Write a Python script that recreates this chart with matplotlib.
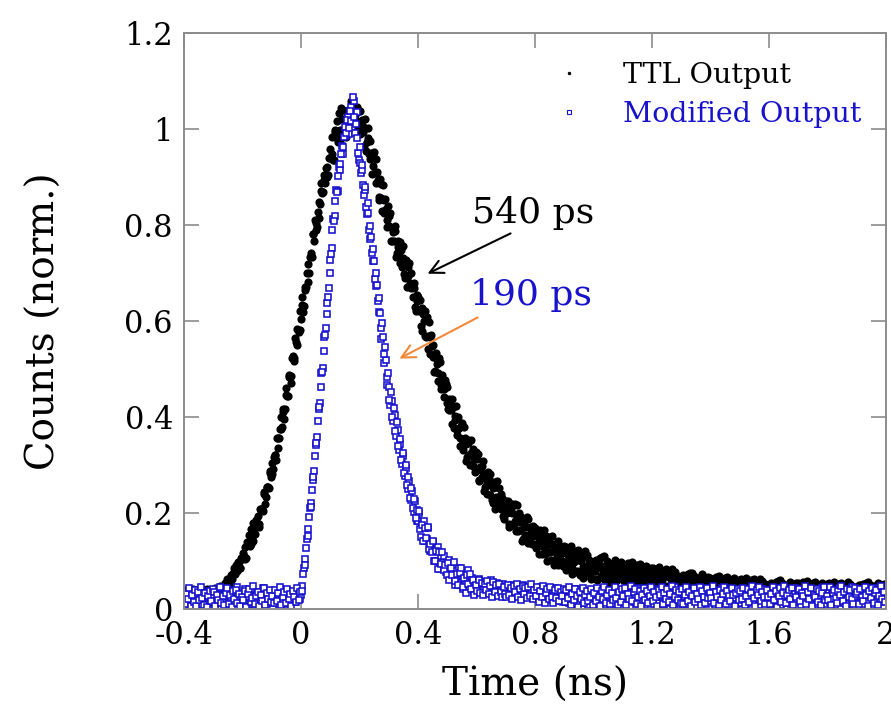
import numpy as np
import matplotlib
matplotlib.use("Agg")
import matplotlib.pyplot as plt
from matplotlib.lines import Line2D

# time bins (ns): 5 ps step from -0.4 to 2.0, plus the half-step bins in between
t_start = -0.4
t_step = 0.005

# TTL output, normalised counts, bins at t_start + i*t_step
ttl_counts = [
    0.039, 0.024, 0.032, 0.019, 0.036, 0.028, 0.042, 0.022, 0.031, 0.025, 0.040, 0.021, 0.034, 0.017, 0.037, 0.027, 0.041, 0.024, 0.031, 0.022,
    0.025, 0.043, 0.021, 0.034, 0.041, 0.021, 0.042, 0.039, 0.054, 0.039, 0.055, 0.044, 0.071, 0.063, 0.086, 0.072, 0.085, 0.097, 0.085, 0.106,
    0.116, 0.110, 0.105, 0.140, 0.137, 0.132, 0.167, 0.142, 0.170, 0.186, 0.173, 0.170, 0.208, 0.209, 0.205, 0.244, 0.233, 0.255, 0.253, 0.287,
    0.305, 0.291, 0.321, 0.311, 0.356, 0.357, 0.400, 0.380, 0.411, 0.417, 0.460, 0.443, 0.483, 0.471, 0.523, 0.522, 0.564, 0.551, 0.581, 0.581,
    0.604, 0.651, 0.631, 0.671, 0.699, 0.682, 0.733, 0.741, 0.781, 0.766, 0.804, 0.795, 0.848, 0.843, 0.888, 0.869, 0.894, 0.919, 0.901, 0.939,
    0.959, 0.948, 0.935, 0.997, 0.988, 0.972, 1.033, 0.977, 1.020, 1.039, 1.003, 0.984, 1.040, 1.027, 1.003, 1.055, 1.013, 1.030, 1.002, 1.038,
    1.038, 0.991, 1.009, 0.964, 1.002, 0.972, 1.003, 0.937, 0.950, 0.923, 0.952, 0.887, 0.911, 0.853, 0.896, 0.856, 0.883, 0.825, 0.833, 0.796,
    0.798, 0.825, 0.767, 0.785, 0.788, 0.733, 0.767, 0.744, 0.764, 0.713, 0.731, 0.689, 0.728, 0.693, 0.721, 0.668, 0.673, 0.679, 0.629, 0.654,
    0.650, 0.620, 0.589, 0.628, 0.601, 0.569, 0.609, 0.542, 0.567, 0.571, 0.524, 0.493, 0.534, 0.510, 0.476, 0.515, 0.467, 0.474, 0.441, 0.469,
    0.463, 0.415, 0.429, 0.385, 0.420, 0.393, 0.423, 0.362, 0.378, 0.356, 0.387, 0.331, 0.357, 0.309, 0.353, 0.321, 0.352, 0.303, 0.315, 0.285,
    0.290, 0.322, 0.268, 0.290, 0.297, 0.245, 0.282, 0.262, 0.285, 0.237, 0.259, 0.221, 0.264, 0.233, 0.266, 0.218, 0.228, 0.239, 0.194, 0.224,
    0.224, 0.200, 0.177, 0.219, 0.199, 0.174, 0.218, 0.162, 0.191, 0.201, 0.164, 0.142, 0.186, 0.170, 0.144, 0.187, 0.149, 0.162, 0.136, 0.167,
    0.169, 0.131, 0.149, 0.115, 0.152, 0.132, 0.165, 0.115, 0.133, 0.118, 0.151, 0.103, 0.133, 0.091, 0.136, 0.110, 0.141, 0.100, 0.115, 0.090,
    0.097, 0.130, 0.084, 0.108, 0.118, 0.073, 0.111, 0.097, 0.121, 0.080, 0.103, 0.071, 0.113, 0.087, 0.121, 0.079, 0.091, 0.103, 0.065, 0.095,
    0.097, 0.080, 0.063, 0.101, 0.087, 0.069, 0.108, 0.062, 0.090, 0.100, 0.071, 0.054, 0.093, 0.081, 0.063, 0.100, 0.070, 0.083, 0.064, 0.091,
    0.094, 0.063, 0.080, 0.052, 0.085, 0.069, 0.098, 0.057, 0.074, 0.062, 0.091, 0.052, 0.078, 0.044, 0.083, 0.062, 0.090, 0.056, 0.070, 0.050,
    0.058, 0.086, 0.048, 0.068, 0.077, 0.040, 0.071, 0.061, 0.080, 0.047, 0.068, 0.041, 0.076, 0.054, 0.083, 0.049, 0.059, 0.069, 0.038, 0.064,
    0.066, 0.052, 0.038, 0.069, 0.058, 0.043, 0.075, 0.038, 0.060, 0.069, 0.045, 0.031, 0.064, 0.055, 0.039, 0.069, 0.045, 0.056, 0.040, 0.062,
    0.064, 0.040, 0.054, 0.032, 0.058, 0.045, 0.069, 0.036, 0.050, 0.041, 0.064, 0.034, 0.054, 0.027, 0.058, 0.042, 0.064, 0.038, 0.048, 0.033,
    0.040, 0.063, 0.032, 0.049, 0.056, 0.027, 0.052, 0.043, 0.060, 0.034, 0.049, 0.028, 0.057, 0.040, 0.063, 0.036, 0.044, 0.053, 0.028, 0.049,
    0.050, 0.039, 0.029, 0.053, 0.045, 0.033, 0.058, 0.030, 0.047, 0.054, 0.036, 0.025, 0.050, 0.043, 0.031, 0.055, 0.036, 0.045, 0.033, 0.051,
    0.054, 0.033, 0.045, 0.026, 0.049, 0.038, 0.059, 0.030, 0.042, 0.035, 0.055, 0.028, 0.046, 0.023, 0.050, 0.036, 0.055, 0.032, 0.042, 0.029,
    0.034, 0.055, 0.028, 0.043, 0.049, 0.024, 0.046, 0.039, 0.053, 0.030, 0.044, 0.026, 0.051, 0.036, 0.057, 0.033, 0.041, 0.048, 0.027, 0.045,
    0.046, 0.036, 0.025, 0.050, 0.041, 0.030, 0.055, 0.026, 0.044, 0.051, 0.033, 0.022, 0.047, 0.040, 0.028, 0.053, 0.034, 0.042, 0.031, 0.049,
    0.041,
]

# TTL output, half-step bins at t_start + (i + 0.5)*t_step
ttl_counts_mid = [
    0.023, 0.035, 0.028, 0.041, 0.021, 0.033, 0.025, 0.039, 0.018, 0.037, 0.027, 0.042, 0.030, 0.022, 0.036, 0.020, 0.032, 0.038, 0.026, 0.040,
    0.037, 0.018, 0.035, 0.028, 0.048, 0.028, 0.039, 0.031, 0.051, 0.062, 0.045, 0.061, 0.048, 0.076, 0.074, 0.091, 0.079, 0.097, 0.085, 0.105,
    0.106, 0.130, 0.106, 0.138, 0.154, 0.136, 0.150, 0.180, 0.157, 0.179, 0.194, 0.178, 0.208, 0.206, 0.240, 0.219, 0.254, 0.255, 0.283, 0.274,
    0.282, 0.317, 0.320, 0.357, 0.336, 0.374, 0.375, 0.416, 0.395, 0.445, 0.444, 0.488, 0.483, 0.486, 0.528, 0.516, 0.556, 0.583, 0.578, 0.620,
    0.633, 0.619, 0.664, 0.670, 0.719, 0.701, 0.736, 0.734, 0.781, 0.811, 0.790, 0.828, 0.815, 0.870, 0.867, 0.904, 0.888, 0.921, 0.904, 0.939,
    0.940, 0.984, 0.935, 0.993, 1.017, 0.978, 0.998, 1.043, 0.990, 1.021, 1.037, 0.992, 1.033, 1.012, 1.058, 0.998, 1.039, 1.016, 1.045, 1.000,
    0.989, 1.018, 0.994, 1.020, 0.955, 0.981, 0.948, 0.976, 0.907, 0.948, 0.908, 0.938, 0.893, 0.858, 0.885, 0.829, 0.852, 0.855, 0.810, 0.840,
    0.819, 0.767, 0.793, 0.767, 0.798, 0.742, 0.755, 0.720, 0.748, 0.756, 0.698, 0.718, 0.671, 0.712, 0.680, 0.699, 0.651, 0.668, 0.620, 0.641,
    0.623, 0.644, 0.580, 0.615, 0.620, 0.567, 0.569, 0.597, 0.532, 0.548, 0.550, 0.495, 0.522, 0.491, 0.523, 0.458, 0.487, 0.458, 0.478, 0.430,
    0.416, 0.438, 0.414, 0.437, 0.377, 0.402, 0.372, 0.400, 0.340, 0.381, 0.348, 0.380, 0.343, 0.316, 0.346, 0.299, 0.325, 0.334, 0.296, 0.328,
    0.313, 0.266, 0.296, 0.274, 0.308, 0.255, 0.271, 0.239, 0.270, 0.282, 0.228, 0.252, 0.209, 0.255, 0.228, 0.252, 0.209, 0.231, 0.188, 0.214,
    0.201, 0.226, 0.171, 0.209, 0.219, 0.175, 0.183, 0.216, 0.162, 0.182, 0.191, 0.146, 0.177, 0.155, 0.191, 0.137, 0.170, 0.149, 0.173, 0.135,
    0.128, 0.155, 0.138, 0.165, 0.115, 0.143, 0.121, 0.152, 0.101, 0.144, 0.118, 0.152, 0.121, 0.100, 0.131, 0.091, 0.119, 0.130, 0.099, 0.131,
    0.120, 0.081, 0.112, 0.096, 0.131, 0.085, 0.104, 0.077, 0.110, 0.123, 0.077, 0.101, 0.064, 0.110, 0.087, 0.113, 0.076, 0.099, 0.062, 0.088,
    0.079, 0.103, 0.060, 0.094, 0.106, 0.071, 0.081, 0.110, 0.067, 0.085, 0.095, 0.059, 0.088, 0.070, 0.103, 0.059, 0.090, 0.074, 0.097, 0.065,
    0.061, 0.084, 0.072, 0.095, 0.055, 0.079, 0.062, 0.089, 0.048, 0.084, 0.064, 0.093, 0.069, 0.052, 0.080, 0.047, 0.072, 0.082, 0.058, 0.085,
    0.078, 0.046, 0.072, 0.059, 0.088, 0.052, 0.068, 0.045, 0.073, 0.084, 0.046, 0.067, 0.036, 0.075, 0.056, 0.077, 0.046, 0.066, 0.035, 0.058,
    0.052, 0.071, 0.036, 0.064, 0.073, 0.046, 0.053, 0.076, 0.041, 0.057, 0.065, 0.036, 0.059, 0.046, 0.072, 0.037, 0.061, 0.049, 0.066, 0.041,
    0.038, 0.057, 0.048, 0.067, 0.035, 0.055, 0.041, 0.063, 0.029, 0.058, 0.042, 0.066, 0.047, 0.034, 0.057, 0.030, 0.050, 0.058, 0.039, 0.061,
    0.056, 0.030, 0.052, 0.041, 0.065, 0.035, 0.048, 0.031, 0.053, 0.062, 0.032, 0.049, 0.024, 0.055, 0.041, 0.058, 0.034, 0.050, 0.026, 0.044,
    0.039, 0.054, 0.027, 0.049, 0.056, 0.034, 0.041, 0.060, 0.032, 0.045, 0.051, 0.029, 0.047, 0.036, 0.057, 0.030, 0.049, 0.039, 0.054, 0.034,
    0.030, 0.047, 0.039, 0.056, 0.028, 0.045, 0.033, 0.053, 0.024, 0.050, 0.036, 0.057, 0.040, 0.028, 0.048, 0.025, 0.043, 0.051, 0.034, 0.053,
    0.048, 0.026, 0.045, 0.036, 0.057, 0.031, 0.042, 0.027, 0.047, 0.055, 0.029, 0.044, 0.023, 0.050, 0.037, 0.053, 0.032, 0.046, 0.025, 0.041,
    0.035, 0.050, 0.023, 0.045, 0.053, 0.031, 0.038, 0.057, 0.029, 0.042, 0.048, 0.026, 0.044, 0.033, 0.054, 0.027, 0.047, 0.037, 0.052, 0.032,
]

# modified output, normalised counts, bins at t_start + i*t_step
mod_counts = [
    0.018, 0.031, 0.012, 0.025, 0.009, 0.036, 0.021, 0.014, 0.028, 0.040, 0.017, 0.023, 0.008, 0.033, 0.019, 0.026, 0.011, 0.038, 0.022, 0.015,
    0.029, 0.010, 0.035, 0.020, 0.013, 0.044, 0.024, 0.016, 0.030, 0.007, 0.027, 0.039, 0.018, 0.012, 0.034, 0.022, 0.046, 0.015, 0.026, 0.009,
    0.032, 0.019, 0.041, 0.014, 0.025, 0.011, 0.037, 0.021, 0.008, 0.029, 0.017, 0.035, 0.023, 0.012, 0.043, 0.020, 0.027, 0.010, 0.033, 0.016,
    0.024, 0.038, 0.013, 0.028, 0.019, 0.009, 0.034, 0.022, 0.015, 0.040, 0.026, 0.011, 0.031, 0.018, 0.036, 0.023, 0.014, 0.029, 0.042, 0.021,
    0.030, 0.048, 0.085, 0.104, 0.146, 0.166, 0.210, 0.221, 0.268, 0.288, 0.342, 0.358, 0.417, 0.429, 0.491, 0.502, 0.566, 0.585, 0.637, 0.668,
    0.728, 0.752, 0.812, 0.818, 0.872, 0.871, 0.921, 0.915, 0.965, 0.948, 1.004, 0.985, 1.025, 0.990, 1.045, 1.005, 1.058, 0.992, 1.036, 0.951,
    0.962, 0.908, 0.915, 0.862, 0.873, 0.822, 0.826, 0.771, 0.775, 0.724, 0.726, 0.672, 0.676, 0.619, 0.617, 0.563, 0.566, 0.512, 0.518, 0.466,
    0.462, 0.425, 0.433, 0.392, 0.404, 0.361, 0.373, 0.331, 0.344, 0.303, 0.318, 0.277, 0.294, 0.249, 0.266, 0.228, 0.246, 0.203, 0.224, 0.184,
    0.183, 0.200, 0.150, 0.178, 0.183, 0.142, 0.146, 0.169, 0.121, 0.134, 0.139, 0.099, 0.123, 0.101, 0.130, 0.083, 0.110, 0.091, 0.111, 0.077,
    0.077, 0.103, 0.063, 0.081, 0.088, 0.050, 0.080, 0.067, 0.086, 0.051, 0.069, 0.041, 0.076, 0.053, 0.081, 0.045, 0.055, 0.065, 0.033, 0.058,
    0.058, 0.049, 0.062, 0.045, 0.055, 0.041, 0.057, 0.038, 0.052, 0.044, 0.060, 0.036, 0.050, 0.042, 0.054, 0.035, 0.048, 0.039, 0.053, 0.034,
    0.047, 0.031, 0.043, 0.038, 0.051, 0.029, 0.040, 0.035, 0.045, 0.027, 0.042, 0.033, 0.049, 0.025, 0.039, 0.031, 0.044, 0.024, 0.037, 0.030,
    0.041, 0.022, 0.036, 0.029, 0.045, 0.019, 0.034, 0.027, 0.040, 0.018, 0.032, 0.038, 0.021, 0.030, 0.043, 0.016, 0.033, 0.025, 0.039, 0.014,
    0.031, 0.020, 0.037, 0.012, 0.028, 0.034, 0.015, 0.026, 0.041, 0.010, 0.029, 0.022, 0.036, 0.013, 0.027, 0.033, 0.009, 0.024, 0.038, 0.017,
    0.025, 0.035, 0.011, 0.030, 0.019, 0.042, 0.014, 0.027, 0.008, 0.033, 0.022, 0.039, 0.016, 0.028, 0.010, 0.036, 0.021, 0.013, 0.031, 0.024,
    0.018, 0.040, 0.012, 0.029, 0.034, 0.007, 0.025, 0.037, 0.015, 0.022, 0.044, 0.011, 0.030, 0.019, 0.035, 0.009, 0.026, 0.032, 0.014, 0.038,
    0.023, 0.010, 0.033, 0.020, 0.041, 0.013, 0.027, 0.036, 0.008, 0.029, 0.017, 0.039, 0.024, 0.012, 0.034, 0.021, 0.045, 0.015, 0.028, 0.009,
    0.035, 0.019, 0.026, 0.042, 0.011, 0.031, 0.022, 0.014, 0.038, 0.025, 0.007, 0.032, 0.018, 0.040, 0.013, 0.027, 0.036, 0.010, 0.029, 0.021,
    0.016, 0.034, 0.024, 0.009, 0.037, 0.020, 0.030, 0.012, 0.043, 0.026, 0.015, 0.033, 0.008, 0.028, 0.039, 0.018, 0.023, 0.035, 0.011, 0.031,
    0.027, 0.013, 0.040, 0.021, 0.032, 0.010, 0.036, 0.017, 0.025, 0.044, 0.014, 0.030, 0.022, 0.008, 0.034, 0.019, 0.041, 0.026, 0.012, 0.029,
    0.020, 0.037, 0.011, 0.028, 0.033, 0.016, 0.042, 0.023, 0.009, 0.031, 0.024, 0.038, 0.013, 0.027, 0.035, 0.010, 0.030, 0.019, 0.043, 0.015,
    0.032, 0.022, 0.008, 0.036, 0.018, 0.029, 0.041, 0.012, 0.026, 0.034, 0.015, 0.039, 0.021, 0.010, 0.033, 0.024, 0.044, 0.017, 0.028, 0.011,
    0.025, 0.040, 0.014, 0.031, 0.020, 0.009, 0.035, 0.027, 0.043, 0.016, 0.030, 0.012, 0.038, 0.023, 0.033, 0.010, 0.029, 0.045, 0.018, 0.026,
    0.036, 0.013, 0.028, 0.021, 0.041, 0.010, 0.032, 0.024, 0.017, 0.039, 0.026, 0.008, 0.034, 0.019, 0.030, 0.043, 0.014, 0.027, 0.037, 0.022,
    0.030,
]

# modified output, half-step bins
mod_counts_mid = [
    0.010, 0.032, 0.021, 0.043, 0.007, 0.029, 0.014, 0.039, 0.006, 0.036, 0.018, 0.045, 0.023, 0.009, 0.034, 0.005, 0.028, 0.038, 0.016, 0.041,
    0.035, 0.006, 0.030, 0.019, 0.046, 0.012, 0.027, 0.008, 0.033, 0.044, 0.010, 0.029, 0.004, 0.037, 0.020, 0.040, 0.013, 0.031, 0.006, 0.025,
    0.019, 0.038, 0.005, 0.032, 0.042, 0.014, 0.022, 0.047, 0.011, 0.028, 0.036, 0.007, 0.030, 0.017, 0.044, 0.009, 0.034, 0.021, 0.040, 0.015,
    0.028, 0.012, 0.040, 0.017, 0.033, 0.045, 0.008, 0.026, 0.036, 0.013, 0.042, 0.020, 0.031, 0.006, 0.038, 0.024, 0.015, 0.043, 0.019, 0.035,
    0.038, 0.072, 0.091, 0.128, 0.152, 0.191, 0.212, 0.247, 0.276, 0.318, 0.345, 0.392, 0.420, 0.462, 0.493, 0.537, 0.571, 0.615, 0.650, 0.701,
    0.739, 0.790, 0.808, 0.851, 0.869, 0.902, 0.928, 0.948, 0.962, 0.983, 0.992, 1.018, 1.002, 1.038, 1.016, 1.066, 1.024, 1.010, 0.982, 0.935,
    0.930, 0.926, 0.884, 0.879, 0.838, 0.846, 0.790, 0.798, 0.742, 0.750, 0.688, 0.701, 0.641, 0.648, 0.585, 0.596, 0.532, 0.545, 0.484, 0.492,
    0.436, 0.452, 0.401, 0.418, 0.370, 0.389, 0.340, 0.355, 0.311, 0.326, 0.284, 0.301, 0.258, 0.276, 0.231, 0.252, 0.211, 0.230, 0.190, 0.207,
    0.204, 0.166, 0.176, 0.142, 0.168, 0.147, 0.170, 0.124, 0.135, 0.119, 0.142, 0.099, 0.120, 0.083, 0.118, 0.094, 0.118, 0.081, 0.092, 0.070,
    0.096, 0.061, 0.086, 0.070, 0.098, 0.059, 0.073, 0.050, 0.076, 0.086, 0.046, 0.065, 0.034, 0.071, 0.052, 0.072, 0.041, 0.060, 0.029, 0.051,
    0.038, 0.061, 0.033, 0.055, 0.029, 0.052, 0.040, 0.058, 0.031, 0.047, 0.026, 0.056, 0.035, 0.049, 0.028, 0.053, 0.036, 0.024, 0.046, 0.031,
    0.024, 0.050, 0.030, 0.044, 0.021, 0.047, 0.035, 0.053, 0.026, 0.041, 0.019, 0.048, 0.032, 0.043, 0.022, 0.046, 0.028, 0.052, 0.020, 0.039,
    0.027, 0.045, 0.015, 0.037, 0.024, 0.048, 0.012, 0.033, 0.041, 0.020, 0.046, 0.026, 0.013, 0.039, 0.022, 0.044, 0.017, 0.035, 0.028, 0.042,
    0.014, 0.039, 0.022, 0.046, 0.009, 0.031, 0.018, 0.042, 0.027, 0.005, 0.035, 0.020, 0.044, 0.012, 0.030, 0.038, 0.016, 0.025, 0.041, 0.008,
    0.033, 0.017, 0.043, 0.024, 0.006, 0.037, 0.021, 0.045, 0.013, 0.029, 0.040, 0.010, 0.034, 0.019, 0.046, 0.023, 0.008, 0.036, 0.015, 0.042,
    0.027, 0.044, 0.009, 0.032, 0.020, 0.047, 0.016, 0.035, 0.041, 0.011, 0.026, 0.038, 0.006, 0.030, 0.043, 0.018, 0.037, 0.012, 0.028, 0.045,
    0.016, 0.036, 0.025, 0.007, 0.039, 0.029, 0.046, 0.011, 0.033, 0.021, 0.042, 0.014, 0.031, 0.047, 0.008, 0.026, 0.040, 0.019, 0.035, 0.012,
    0.041, 0.010, 0.030, 0.045, 0.017, 0.036, 0.006, 0.028, 0.043, 0.015, 0.032, 0.020, 0.046, 0.009, 0.038, 0.024, 0.013, 0.044, 0.022, 0.034,
    0.023, 0.047, 0.012, 0.035, 0.026, 0.008, 0.040, 0.019, 0.031, 0.045, 0.010, 0.037, 0.027, 0.016, 0.043, 0.029, 0.006, 0.034, 0.041, 0.018,
    0.037, 0.020, 0.044, 0.009, 0.028, 0.041, 0.014, 0.033, 0.047, 0.022, 0.007, 0.039, 0.030, 0.045, 0.017, 0.036, 0.024, 0.011, 0.040, 0.026,
    0.010, 0.031, 0.046, 0.019, 0.038, 0.005, 0.027, 0.043, 0.015, 0.034, 0.048, 0.012, 0.029, 0.040, 0.021, 0.044, 0.008, 0.032, 0.025, 0.039,
    0.042, 0.016, 0.034, 0.027, 0.047, 0.011, 0.036, 0.020, 0.044, 0.007, 0.030, 0.025, 0.041, 0.014, 0.037, 0.009, 0.033, 0.046, 0.018, 0.028,
    0.019, 0.045, 0.008, 0.033, 0.040, 0.023, 0.012, 0.038, 0.029, 0.047, 0.016, 0.035, 0.006, 0.042, 0.026, 0.039, 0.021, 0.010, 0.044, 0.031,
    0.035, 0.011, 0.041, 0.024, 0.017, 0.046, 0.030, 0.007, 0.038, 0.022, 0.044, 0.013, 0.033, 0.040, 0.009, 0.027, 0.048, 0.020, 0.036, 0.015,
]

x_ticks = [-0.4, 0, 0.4, 0.8, 1.2, 1.6, 2]
x_ticklabels = ["-0.4", "0", "0.4", "0.8", "1.2", "1.6", "2"]
y_ticks = [0, 0.2, 0.4, 0.6, 0.8, 1, 1.2]
y_ticklabels = ["0", "0.2", "0.4", "0.6", "0.8", "1", "1.2"]

t_main = t_start + t_step * np.arange(len(ttl_counts))
t_mid = t_start + t_step * (np.arange(len(ttl_counts_mid)) + 0.5)
t = np.concatenate([t_main, t_mid])
ttl = np.concatenate([ttl_counts, ttl_counts_mid])
mod = np.concatenate([mod_counts, mod_counts_mid])

plt.rcParams['font.family'] = ['DejaVu Serif']
blue = '#1812cc'
orange = '#f0893a'
grey = '#8c8c8c'

fig = plt.figure(figsize=(8.91, 7.11), dpi=100)
ax = fig.add_axes([184/891, 102/711, 702/891, 576/711])

ax.plot(t, ttl, 'o', color='black', markersize=5.9, markeredgewidth=0, label='TTL Output')
ax.plot(t, mod, 's', color=blue, markerfacecolor='white', markersize=4.7,
        markeredgewidth=1.15, label='Modified Output')

ax.set_xlim(-0.4, 2)
ax.set_ylim(0, 1.2)
ax.set_xticks(x_ticks)
ax.set_xticklabels(x_ticklabels)
ax.set_yticks(y_ticks)
ax.set_yticklabels(y_ticklabels)
ax.tick_params(direction='in', length=11, width=1.2, color=grey, labelsize=22,
               top=True, right=True, pad=8)
for s in ax.spines.values():
    s.set_color(grey)
    s.set_linewidth(1.4)

ax.set_xlabel('Time (ns)', fontsize=28, labelpad=11)
ax.set_ylabel('Counts (norm.)', fontsize=28, labelpad=44)

handles = [
    Line2D([], [], ls='none', marker='o', color='black', markersize=2.5, markeredgewidth=0),
    Line2D([], [], ls='none', marker='s', color=blue, markerfacecolor='white', markersize=2.5, markeredgewidth=0.8),
]
leg = ax.legend(handles, ['TTL Output', 'Modified Output'], loc='upper right', frameon=False,
                fontsize=20.5, handlelength=1.2, handletextpad=1.3, borderaxespad=0.1,
                labelspacing=0.45, bbox_to_anchor=(0.985, 0.975))
leg.get_texts()[1].set_color(blue)

ax.annotate('', xy=(0.424, 0.696), xytext=(0.725, 0.785),
            arrowprops=dict(arrowstyle='->', color='black', lw=1.5, mutation_scale=24))
ax.text(0.585, 0.825, '540 ps', fontsize=26, va='center', ha='left', color='black')
ax.annotate('', xy=(0.328, 0.519), xytext=(0.612, 0.61),
            arrowprops=dict(arrowstyle='->', color=orange, lw=1.5, mutation_scale=24))
ax.text(0.578, 0.654, '190 ps', fontsize=26, va='center', ha='left', color=blue)

fig.savefig('out.png', dpi=100)
